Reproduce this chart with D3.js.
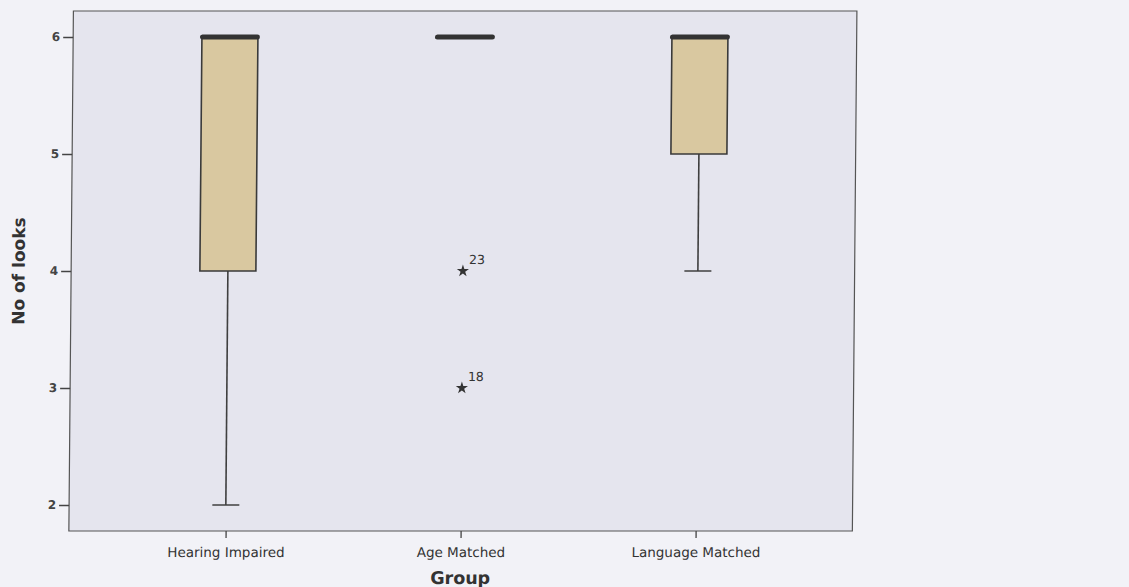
<!DOCTYPE html>
<html>
<head>
<meta charset="utf-8">
<script src="https://cdn.jsdelivr.net/npm/d3@7"></script>
<style>
  html, body { margin: 0; padding: 0; background: #f2f2f7; }
  svg { display: block; }
</style>
</head>
<body>
<div id="chart"></div>
<script>
// groups and box statistics (No of looks)
const groups = ["Hearing Impaired", "Age Matched", "Language Matched"];
const q1 = [4, 6, 5];
const medians = [6, 6, 6];
const q3 = [6, 6, 6];
const whiskerLow = [2, 6, 4];
const whiskerHigh = [6, 6, 6];

// extreme values (stars) with case numbers
const outlierGroup = ["Age Matched", "Age Matched"];
const outlierValue = [4, 3];
const outlierCase = ["23", "18"];

const yTicks = [2, 3, 4, 5, 6];

let W = 1129, H = 587;
let margin = { top: 11, right: 272, bottom: 56, left: 73.5 },
    width = W - margin.left - margin.right,
    height = H - margin.top - margin.bottom;

let svg = d3.select("#chart")
    .append("svg")
    .attr("width", W)
    .attr("height", H);

// scanned page is slightly sheared
let root = svg.append("g").attr("transform", "skewX(-0.5)");

let g = root.append("g")
    .attr("transform", "translate(" + margin.left + "," + margin.top + ")");

// panel
g.append("rect")
    .attr("width", width)
    .attr("height", height)
    .attr("fill", "#e5e5ee")
    .attr("stroke", "#555")
    .attr("stroke-width", 1.2);

let x = d3.scalePoint()
    .domain(groups)
    .range([0, width])
    .padding(0.667);

let y = d3.scaleLinear()
    .domain([1.778, 6.222])
    .range([height, 0]);

// Y axis
let yAxis = g.append("g")
    .call(d3.axisLeft(y).tickValues(yTicks).tickSize(10).tickPadding(3).tickFormat(d3.format("d")));
yAxis.select(".domain").remove();
yAxis.selectAll("line").attr("stroke", "#444").attr("stroke-width", 1.3);
yAxis.selectAll("text")
    .attr("fill", "#444")
    .style("font-family", "DejaVu Sans, sans-serif")
    .style("font-size", "12px")
    .style("font-weight", "bold");

// X axis
let xAxis = g.append("g")
    .attr("transform", "translate(0," + height + ")")
    .call(d3.axisBottom(x).tickSize(7).tickPadding(9));
xAxis.select(".domain").remove();
xAxis.selectAll("line").attr("stroke", "#444").attr("stroke-width", 1.3);
xAxis.selectAll("text")
    .attr("fill", "#333")
    .style("font-family", "DejaVu Sans, sans-serif")
    .style("font-size", "13.5px");

let boxW = 56, capW = 27, medW = 60;
let stats = groups.map((k, i) => ({
    key: k, q1: q1[i], med: medians[i], q3: q3[i], lo: whiskerLow[i], hi: whiskerHigh[i]
}));

// whiskers
let wh = g.append("g").attr("stroke", "#3f3f3f").attr("stroke-width", 1.6);
stats.filter(d => d.lo < d.q1).forEach(d => {
    wh.append("line")
        .attr("x1", x(d.key)).attr("x2", x(d.key))
        .attr("y1", y(d.q1)).attr("y2", y(d.lo));
    wh.append("line")
        .attr("x1", x(d.key) - capW / 2).attr("x2", x(d.key) + capW / 2)
        .attr("y1", y(d.lo)).attr("y2", y(d.lo));
});
stats.filter(d => d.hi > d.q3).forEach(d => {
    wh.append("line")
        .attr("x1", x(d.key)).attr("x2", x(d.key))
        .attr("y1", y(d.q3)).attr("y2", y(d.hi));
    wh.append("line")
        .attr("x1", x(d.key) - capW / 2).attr("x2", x(d.key) + capW / 2)
        .attr("y1", y(d.hi)).attr("y2", y(d.hi));
});

// boxes
g.append("g")
    .selectAll("rect")
    .data(stats.filter(d => d.q3 > d.q1))
    .enter()
    .append("rect")
    .attr("x", d => x(d.key) - boxW / 2)
    .attr("y", d => y(d.q3))
    .attr("width", boxW)
    .attr("height", d => y(d.q1) - y(d.q3))
    .attr("fill", "#d9c8a0")
    .attr("stroke", "#3a3a3a")
    .attr("stroke-width", 1.6);

// medians
g.append("g")
    .selectAll("line")
    .data(stats)
    .enter()
    .append("line")
    .attr("x1", d => x(d.key) - medW / 2 + 2.5)
    .attr("x2", d => x(d.key) + medW / 2 - 2.5)
    .attr("y1", d => y(d.med))
    .attr("y2", d => y(d.med))
    .attr("stroke", "#333")
    .attr("stroke-width", 5)
    .attr("stroke-linecap", "round");

// extremes
let star = d3.symbol().type(d3.symbolStar).size(46);
let ex = g.append("g");
outlierValue.forEach((v, i) => {
    let cx = x(outlierGroup[i]), cy = y(v);
    ex.append("path")
        .attr("d", star)
        .attr("transform", "translate(" + cx + "," + cy + ")")
        .attr("fill", "#333");
    ex.append("text")
        .attr("x", cx + 6)
        .attr("y", cy - 7)
        .attr("fill", "#333")
        .style("font-family", "DejaVu Sans, sans-serif")
        .style("font-size", "12.5px")
        .text(outlierCase[i]);
});

// axis titles
root.append("text")
    .attr("x", margin.left + x("Age Matched"))
    .attr("y", 584)
    .attr("text-anchor", "middle")
    .attr("fill", "#333")
    .style("font-family", "DejaVu Sans, sans-serif")
    .style("font-size", "17.5px")
    .style("font-weight", "bold")
    .text("Group");

root.append("text")
    .attr("transform", "translate(27," + (margin.top + height / 2) + ") rotate(-90)")
    .attr("text-anchor", "middle")
    .attr("fill", "#333")
    .style("font-family", "DejaVu Sans, sans-serif")
    .style("font-size", "17px")
    .style("font-weight", "bold")
    .text("No of looks");
</script>
</body>
</html>
